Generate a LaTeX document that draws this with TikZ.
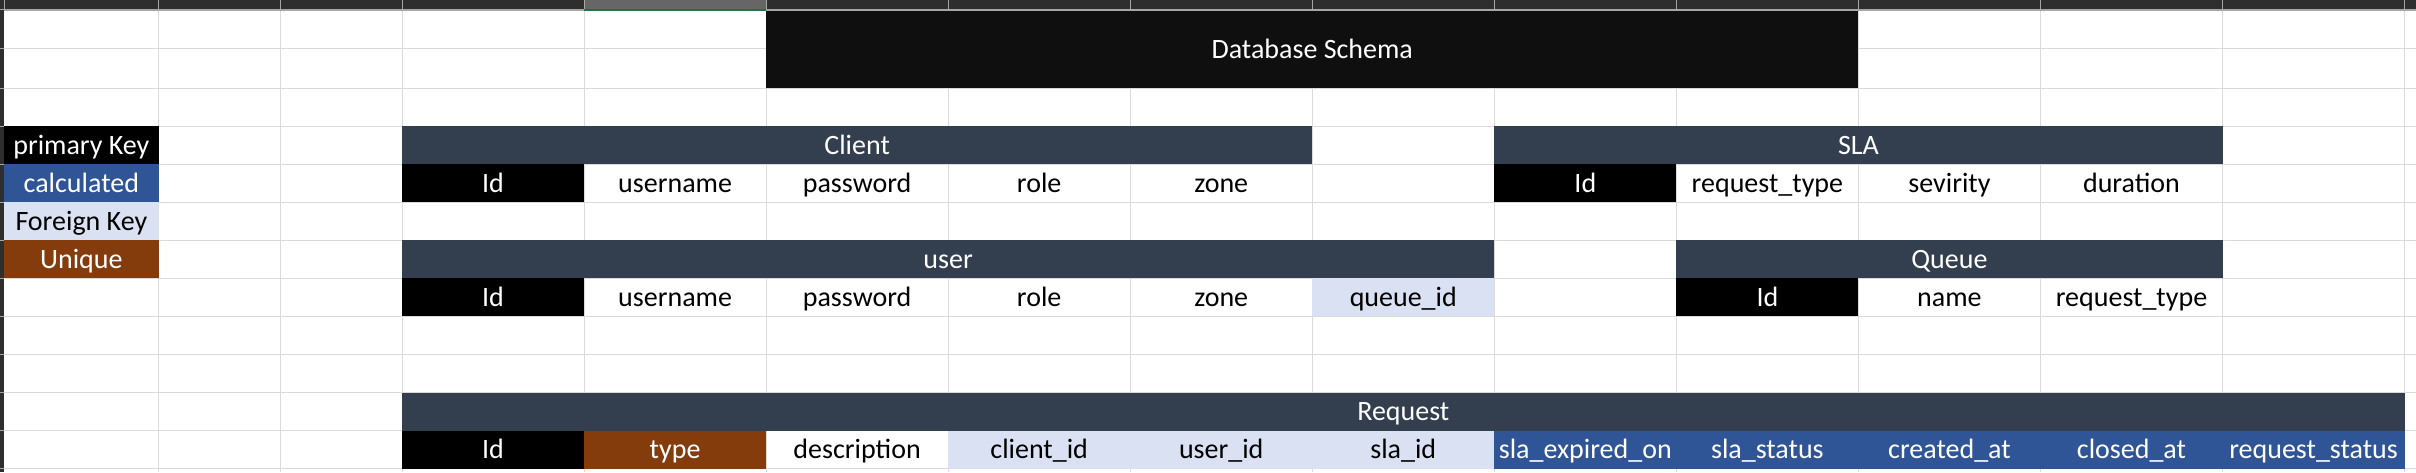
\documentclass[tikz,border=0pt]{standalone}
\usepackage{fontspec}
\setmainfont{Carlito}
\usepackage{tikz}
\usepackage{xcolor}
\usetikzlibrary{positioning}

\definecolor{hdr}{HTML}{333F4F}
\definecolor{titleblk}{HTML}{0F0F0F}
\definecolor{calcblue}{HTML}{2F5597}
\definecolor{fkblue}{HTML}{D9E1F2}
\definecolor{uniqbrown}{HTML}{843C0C}
\definecolor{gridgray}{HTML}{DADADA}
\definecolor{stripgray}{HTML}{2E2E2E}
\definecolor{selgray}{HTML}{666666}
\definecolor{selgreen}{HTML}{217346}
\definecolor{sepgray}{HTML}{A6A6A6}

\begin{document}
\begin{tikzpicture}[
    x=0.5pt, y=-0.5pt,
    node distance = 0pt,
    cell/.style = {
        rectangle, inner sep=0pt, outer sep=0pt,
        minimum width=91.025pt, minimum height=19.04pt,
        text height=9pt, text depth=0pt,
        align=center, font=\fontsize{14}{17}\selectfont
    },
    tblhead/.style = {cell, fill=hdr, text=white},
    pk/.style = {cell, fill=black, text=white},
    fk/.style = {cell, fill=fkblue},
    calccell/.style = {cell, fill=calcblue, text=white},
    uniq/.style = {cell, fill=uniqbrown, text=white},
    keycell/.style = {minimum width=77.35pt},
    gridline/.style = {draw=gridgray, line width=0.5pt}
]
\useasboundingbox (0,0) rectangle (2416,472);

% Sheet and gridlines
\fill[white] (0,0) rectangle (2416,472);
\foreach \x in {158.7,280.3,402,584.05,766.1,948.15,1130.2,1312.25,1494.3,1676.35,1858.4,2040.45,2222.5,2404.55}
    \draw[gridline] (\x,10) -- (\x,472);
\foreach \y in {48.3,88.3,126,164.08,202.16,240.24,278.32,316.4,354.48,392.56,430.64,468.72}
    \draw[gridline] (4,\y) -- (2416,\y);

% Title
\node[cell, fill=titleblk, text=white, minimum width=546.15pt, minimum height=39.15pt] (title) at (1312.25,49.15) {Database Schema};

% Legend
\node[pk, keycell] (pkey) at (81.35,145.04) {primary Key};
\node[calccell, keycell, below=of pkey] (calcKey) {calculated};
\node[fk, keycell, below=of calcKey] (fkey) {Foreign Key};
\node[uniq, keycell, below=of fkey] (uniqKey) {Unique};

% Client
\node[pk] (cId) at (493.03,183.12) {Id};
\node[cell, right=of cId] (cUser) {username};
\node[cell, right=of cUser] (cPass) {password};
\node[cell, right=of cPass] (cRole) {role};
\node[cell, right=of cRole] (cZone) {zone};
\node[tblhead, minimum width=455.13pt, anchor=south west] (clientH) at (cId.north west) {Client};

% SLA
\node[pk] (sId) at (1585.33,183.12) {Id};
\node[cell, right=of sId] (sReqType) {request\_type};
\node[cell, right=of sReqType] (sSev) {sevirity};
\node[cell, right=of sSev] (sDur) {duration};
\node[tblhead, minimum width=364.1pt, anchor=south west] (slaH) at (sId.north west) {SLA};

% user
\node[pk] (uId) at (493.03,297.36) {Id};
\node[cell, right=of uId] (uUser) {username};
\node[cell, right=of uUser] (uPass) {password};
\node[cell, right=of uPass] (uRole) {role};
\node[cell, right=of uRole] (uZone) {zone};
\node[fk, right=of uZone] (uQueue) {queue\_id};
\node[tblhead, minimum width=546.15pt, anchor=south west] (userH) at (uId.north west) {user};

% Queue
\node[pk] (qId) at (1767.38,297.36) {Id};
\node[cell, right=of qId] (qName) {name};
\node[cell, right=of qName] (qReqType) {request\_type};
\node[tblhead, minimum width=273.08pt, anchor=south west] (queueH) at (qId.north west) {Queue};

% Request
\node[pk] (rId) at (493.03,449.68) {Id};
\node[uniq, right=of rId] (rType) {type};
\node[cell, right=of rType] (rDesc) {description};
\node[fk, right=of rDesc] (rClient) {client\_id};
\node[fk, right=of rClient] (rUser) {user\_id};
\node[fk, right=of rUser] (rSla) {sla\_id};
\node[calccell, right=of rSla] (rExp) {sla\_expired\_on};
\node[calccell, right=of rExp] (rSlaStat) {sla\_status};
\node[calccell, right=of rSlaStat] (rCreated) {created\_at};
\node[calccell, right=of rCreated] (rClosed) {closed\_at};
\node[calccell, right=of rClosed] (rStatus) {request\_status};
\node[tblhead, minimum width=1001.28pt, anchor=south west] (reqH) at (rId.north west) {Request};

% Sheet headers
\fill[stripgray] (0,0) rectangle (2416,10);
\fill[selgray] (584.05,0) rectangle (766.1,10);
\foreach \x in {4,158.7,280.3,402,584.05,766.1,948.15,1130.2,1312.25,1494.3,1676.35,1858.4,2040.45,2222.5,2404.55}
    \draw[sepgray, line width=0.5pt] (\x,0) -- (\x,10);
\draw[sepgray, line width=0.6pt] (0,10) -- (2416,10);
\draw[selgreen, line width=1pt] (584.05,9.5) -- (766.1,9.5);
\fill[stripgray] (0,10) rectangle (4,472);
\foreach \y in {48.3,88.3,126,164.08,202.16,240.24,278.32,316.4,354.48,392.56,430.64,468.72}
    \draw[sepgray, line width=0.5pt] (0,\y) -- (4,\y);

\end{tikzpicture}
\end{document}
